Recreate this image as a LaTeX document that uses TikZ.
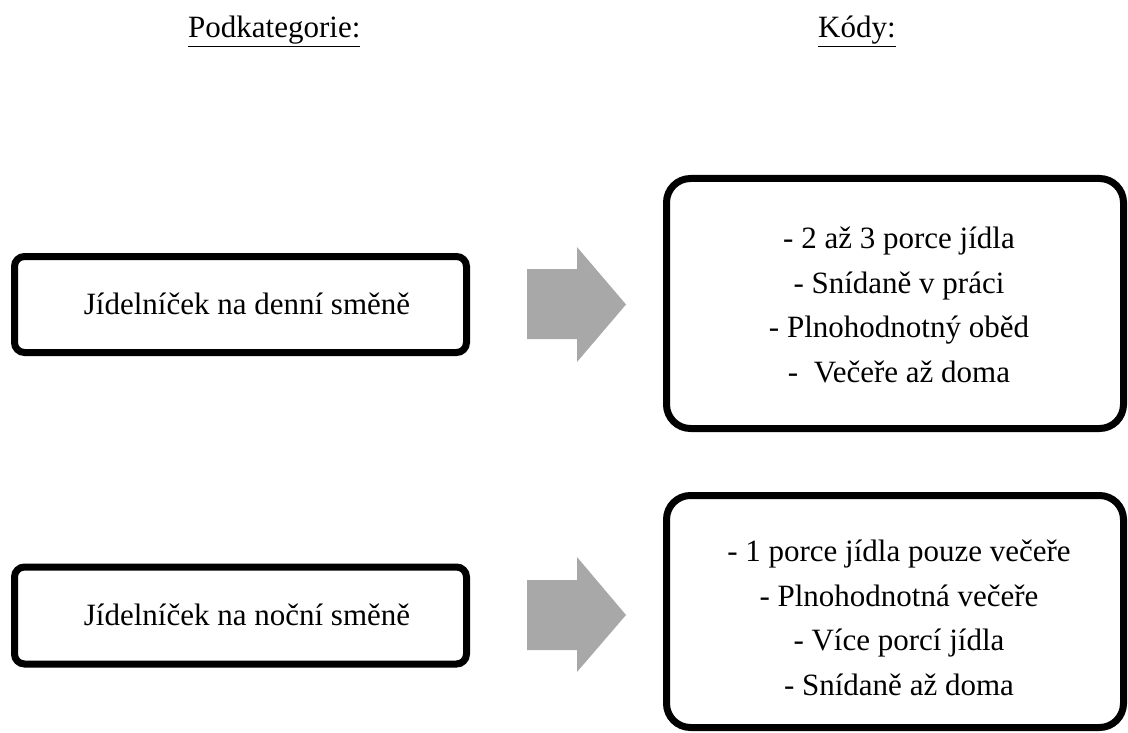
\documentclass[tikz,border=0pt]{standalone}
\usepackage{fontspec}
\setmainfont{Liberation Serif}
\usetikzlibrary{shadows}
\definecolor{arrowgray}{HTML}{A8A8A8}
\tikzset{
  catbox/.style={draw=black, line width=7pt, rounded corners=10pt, fill=white,
    minimum width=452pt, inner sep=0pt,
    drop shadow={shadow xshift=1.5pt, shadow yshift=-3pt, opacity=0.25, fill=black}},
  codebox/.style={draw=black, line width=7pt, rounded corners=24pt, fill=white,
    minimum width=457pt, inner sep=0pt,
    drop shadow={shadow xshift=1.5pt, shadow yshift=-3pt, opacity=0.25, fill=black}},
  txt/.style={font=\fontsize{31}{44.7}\selectfont, align=center, inner sep=0pt},
  head/.style={font=\fontsize{31}{36}\selectfont, inner sep=0pt, anchor=base west},
  blockarrow/.style={fill=arrowgray, draw=none}
}
\begin{document}
\begin{tikzpicture}[x=1pt,y=-1pt]
\useasboundingbox (0,0) rectangle (1128,733);
% headers
\node[head] (h1) at (188,38) {\underline{Podkategorie:}};
\node[head] (h2) at (818,38) {\underline{Kódy:}};
% left boxes
\node[catbox, minimum height=96pt] (c1) at (240.5,304.5) {};
\node[txt] (c1t) at (247,304) {Jídelníček na denní směně};
\node[catbox, minimum height=97pt] (c2) at (240.5,615.5) {};
\node[txt] (c2t) at (247,615) {Jídelníček na noční směně};
% right boxes
\node[codebox, minimum height=250pt] (k1) at (895,303.5) {};
\node[txt] (k1t) at (899,305) {- 2 až 3 porce jídla\\- Snídaně v práci\\- Plnohodnotný oběd\\-\ \ Večeře až doma};
\node[codebox, minimum height=232pt] (k2) at (895,611.5) {};
\node[txt] (k2t) at (899,618) {- 1 porce jídla pouze večeře\\- Plnohodnotná večeře\\- Více porcí jídla\\- Snídaně až doma};
% block arrows
\fill[blockarrow] (527,269) -- (577,269) -- (577,247) -- (626,304.5) -- (577,362) -- (577,339) -- (527,339) -- cycle;
\fill[blockarrow] (527,580) -- (577,580) -- (577,557) -- (626,615) -- (577,672) -- (577,650) -- (527,650) -- cycle;
\end{tikzpicture}
\end{document}
